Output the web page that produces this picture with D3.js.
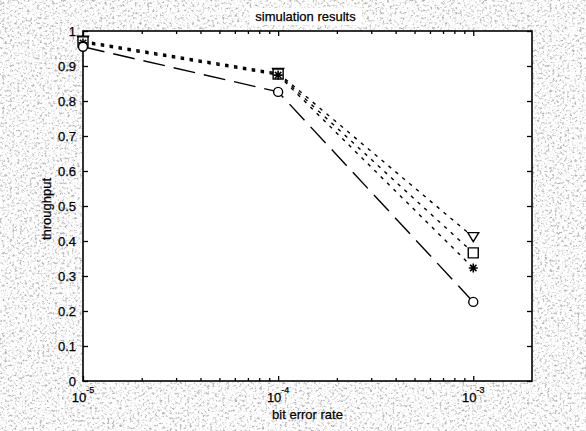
<!DOCTYPE html>
<html>
<head>
<meta charset="utf-8">
<script src="https://cdn.jsdelivr.net/npm/d3@7"></script>
<style>
  html, body { margin: 0; padding: 0; background: #fff; }
  svg { display: block; }
  text { font-family: "Liberation Sans", Arial, sans-serif; fill: #000; stroke: #000; stroke-width: 0.25; }
</style>
</head>
<body>
<div id="chart"></div>
<script>
// --- 1. DATA ---
var berValues = [1e-5, 1e-4, 1e-3];
var throughputTriangle = [0.972, 0.880, 0.411];
var throughputSquare = [0.969, 0.877, 0.366];
var throughputStar = [0.966, 0.874, 0.323];
var throughputCircle = [0.955, 0.826, 0.226];
var yTickValues = [0, 0.1, 0.2, 0.3, 0.4, 0.5, 0.6, 0.7, 0.8, 0.9, 1];
var xMajorExponents = [-5, -4, -3];
var titleText = "simulation results";
var xLabelText = "bit error rate";
var yLabelText = "throughput";

// --- 2. SETUP ---
var width = 586, height = 431;
var plot = { left: 83, right: 532, top: 31, bottom: 381 };

var svg = d3.select("#chart").append("svg")
    .attr("width", width)
    .attr("height", height);

// scanned paper look: patchy grey speckle outside the axes
var defs = svg.append("defs");
var f = defs.append("filter").attr("id", "speckle")
    .attr("x", 0).attr("y", 0).attr("width", "100%").attr("height", "100%");
f.append("feTurbulence")
    .attr("type", "fractalNoise").attr("baseFrequency", 0.4)
    .attr("numOctaves", 4).attr("seed", 11).attr("result", "n");
f.append("feColorMatrix").attr("in", "n").attr("type", "matrix")
    .attr("values", "0 0 0 0 0.42  0 0 0 0 0.42  0 0 0 0 0.42  1 0 0 0 0");
f.append("feComponentTransfer").append("feFuncA")
    .attr("type", "discrete")
    .attr("tableValues", "0 0 0 0 0 0.12 0.4 0.75 0.95 1");

svg.append("rect").attr("width", width).attr("height", height).attr("fill", "#fff");
svg.append("rect").attr("width", width).attr("height", height).attr("filter", "url(#speckle)");

svg.append("rect")
    .attr("x", plot.left).attr("y", plot.top)
    .attr("width", plot.right - plot.left).attr("height", plot.bottom - plot.top)
    .attr("fill", "#fff");

var x = d3.scaleLog().domain([1e-5, 2e-3]).range([plot.left, plot.right]);
var y = d3.scaleLinear().domain([0, 1]).range([plot.bottom, plot.top]);

var majorTicks = xMajorExponents.map(function(e) { return Math.pow(10, e); });
var minorTicks = [];
majorTicks.forEach(function(m) {
    for (var k = 2; k <= 9; k++) {
        var v = m * k;
        if (v < 2e-3) minorTicks.push(v);
    }
});

// --- 3. AXES (MATLAB box, inward ticks) ---
function styleAxis(g) {
    g.select(".domain").remove();
    g.selectAll(".tick line").attr("stroke", "#000").attr("stroke-width", 1.3);
}

svg.append("g")
    .attr("transform", "translate(" + plot.left + ",0)")
    .call(d3.axisLeft(y).tickValues(yTickValues).tickSizeInner(-5).tickSizeOuter(0).tickPadding(7)
        .tickFormat(function(d) { return d === 0 || d === 1 ? d3.format("d")(d) : d3.format(".1f")(d); }))
    .call(styleAxis)
    .selectAll("text").attr("font-size", 13);

svg.append("g")
    .attr("transform", "translate(" + plot.right + ",0)")
    .call(d3.axisRight(y).tickValues(yTickValues).tickSizeInner(-5).tickSizeOuter(0).tickFormat(""))
    .call(styleAxis);

[["bottom", plot.bottom, d3.axisBottom], ["top", plot.top, d3.axisTop]].forEach(function(a) {
    svg.append("g")
        .attr("transform", "translate(0," + a[1] + ")")
        .call(a[2](x).tickValues(majorTicks).tickSizeInner(-5).tickSizeOuter(0).tickFormat(""))
        .call(styleAxis);
    svg.append("g")
        .attr("transform", "translate(0," + a[1] + ")")
        .call(a[2](x).tickValues(minorTicks).tickSizeInner(-3).tickSizeOuter(0).tickFormat(""))
        .call(styleAxis);
});

svg.append("rect")
    .attr("x", plot.left).attr("y", plot.top)
    .attr("width", plot.right - plot.left).attr("height", plot.bottom - plot.top)
    .attr("fill", "none").attr("stroke", "#000").attr("stroke-width", 1.6);

// x tick labels: 10 with superscript exponent
var xLabels = svg.append("g");
xMajorExponents.forEach(function(e) {
    var t = xLabels.append("text")
        .attr("x", x(Math.pow(10, e)))
        .attr("y", plot.bottom + 21)
        .attr("text-anchor", "middle")
        .attr("font-size", 13);
    t.append("tspan").text("10");
    t.append("tspan").attr("dy", -9).attr("font-size", 9).text(String(e));
});

// --- 4. SERIES ---
var line = d3.line()
    .x(function(d) { return x(d[0]); })
    .y(function(d) { return y(d[1]); });

var series = [
    { values: throughputTriangle, dash: "3.5,5.5", marker: "triangle" },
    { values: throughputSquare, dash: "3.5,5.5", marker: "square" },
    { values: throughputStar, dash: "3.5,5.5", marker: "star" },
    { values: throughputCircle, dash: "22,9", marker: "circle" }
];

series.forEach(function(s) {
    var pts = berValues.map(function(b, i) { return [b, s.values[i]]; });
    svg.append("path")
        .attr("d", line(pts))
        .attr("fill", "none")
        .attr("stroke", "#000")
        .attr("stroke-width", 1.4)
        .attr("stroke-dasharray", s.dash);
});

function markerPath(type) {
    if (type === "triangle") return "M-5.5,-4.5L5.5,-4.5L0,4.5Z";
    if (type === "square") return "M-5,-5L5,-5L5,5L-5,5Z";
    if (type === "circle") return "M4.5,0A4.5,4.5 0 1,1 -4.5,0A4.5,4.5 0 1,1 4.5,0Z";
    // MATLAB '*': plus and cross overlaid
    return "M-4.5,0L4.5,0M0,-4.5L0,4.5M-3.2,-3.2L3.2,3.2M-3.2,3.2L3.2,-3.2";
}

series.forEach(function(s) {
    svg.append("g").selectAll("path")
        .data(berValues.map(function(b, i) { return [b, s.values[i]]; }))
        .enter()
        .append("path")
        .attr("transform", function(d) { return "translate(" + x(d[0]) + "," + y(d[1]) + ")"; })
        .attr("d", markerPath(s.marker))
        .attr("fill", s.marker === "star" ? "none" : "#fff")
        .attr("stroke", "#000")
        .attr("stroke-width", s.marker === "star" ? 1.6 : 1.4);
});

// --- 5. LABELS ---
var titleX = (plot.left + plot.right) / 2 - 2;
svg.append("rect")
    .attr("x", titleX - 56).attr("y", 8).attr("width", 112).attr("height", 17)
    .attr("fill", "#fff");
svg.append("text")
    .attr("x", titleX).attr("y", 21)
    .attr("text-anchor", "middle")
    .attr("font-size", 13)
    .text(titleText);

svg.append("text")
    .attr("x", (plot.left + plot.right) / 2)
    .attr("y", 419)
    .attr("text-anchor", "middle")
    .attr("font-size", 13)
    .text(xLabelText);

svg.append("text")
    .attr("transform", "translate(51," + ((plot.top + plot.bottom) / 2 + 3) + ") rotate(-90)")
    .attr("text-anchor", "middle")
    .attr("font-size", 13)
    .text(yLabelText);
</script>
</body>
</html>
